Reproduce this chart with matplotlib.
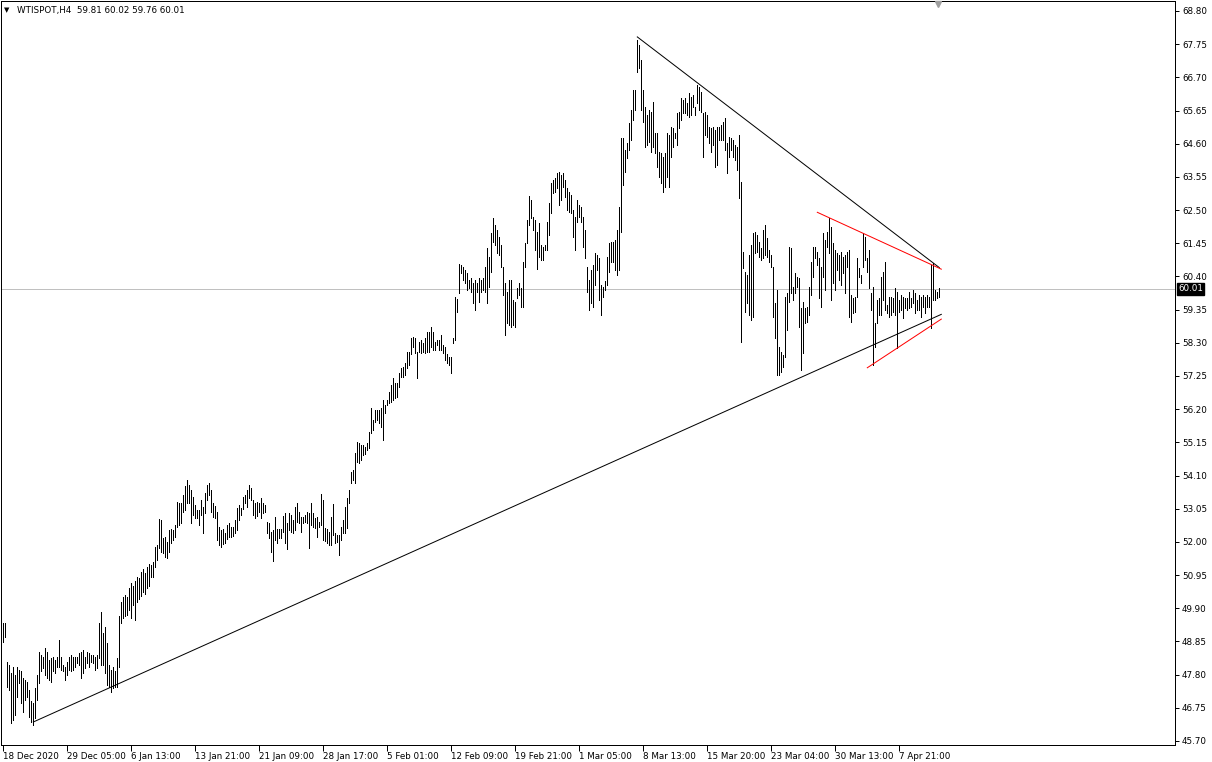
import matplotlib
matplotlib.use("Agg")
import matplotlib.pyplot as plt
import numpy as np

# ---------------- data (H4 bars, high / low) ----------------
highs = [
 49.43,49.43,48.21,48.11,47.84,48.05,47.79,48.05,47.95,47.90,
 47.68,47.63,47.58,47.32,46.95,46.89,47.37,47.79,48.53,48.42,
 48.37,48.63,48.53,48.26,48.32,48.37,48.26,48.37,48.90,48.37,
 48.11,48.05,48.21,48.37,48.42,48.37,48.37,48.37,48.48,48.53,
 48.58,48.37,48.53,48.48,48.42,48.42,48.37,48.42,49.43,49.79,
 49.11,49.32,48.79,48.11,47.95,48.05,47.90,48.32,49.64,50.11,
 50.27,50.32,50.27,50.55,50.70,50.60,50.75,50.90,50.85,51.05,
 51.15,51.00,51.20,51.30,51.27,51.37,51.85,51.90,52.71,52.69,
 52.11,52.17,52.01,52.38,52.40,52.38,52.53,53.27,53.24,53.22,
 53.48,53.77,53.96,53.80,53.64,53.43,53.17,53.01,53.01,53.33,
 53.11,53.54,53.80,53.85,53.64,53.22,53.14,52.96,52.48,52.38,
 52.40,52.27,52.53,52.59,52.48,52.48,52.69,53.06,53.17,53.06,
 53.43,53.48,53.64,53.80,53.70,53.33,53.22,53.27,53.22,53.38,
 53.22,53.17,52.64,52.59,52.32,52.38,52.80,52.40,52.40,52.40,
 52.82,52.90,52.59,52.90,52.85,52.69,53.11,53.22,52.96,52.80,
 52.80,52.85,52.96,52.90,53.24,52.90,52.74,52.80,52.64,53.52,
 53.33,52.43,52.40,52.32,52.80,53.20,52.27,52.22,52.22,52.48,
 52.69,53.11,53.38,53.64,54.22,54.27,54.80,55.17,55.12,55.07,
 55.07,55.01,55.12,55.49,56.23,55.86,56.17,56.17,56.17,56.23,
 56.49,56.33,56.49,56.75,56.97,57.18,57.02,57.02,57.33,57.49,
 57.55,57.65,58.02,58.02,58.44,58.49,58.44,58.02,58.34,58.39,
 58.28,58.44,58.65,58.65,58.81,58.65,58.34,58.39,58.39,58.55,
 58.23,58.18,57.93,57.86,57.86,58.44,59.76,59.68,60.79,60.76,
 60.71,60.60,60.50,60.29,60.34,60.18,60.29,60.18,60.34,60.29,
 60.34,60.69,61.29,61.03,61.76,62.24,62.03,61.87,61.66,61.40,
 60.71,60.18,59.92,60.29,60.29,59.65,59.60,60.03,60.18,60.03,
 60.87,61.45,62.19,62.95,62.82,62.29,62.19,61.82,62.08,61.40,
 61.34,61.40,62.13,62.71,63.35,63.45,63.50,63.66,63.72,63.61,
 63.66,63.45,63.19,63.08,62.98,62.50,62.29,62.82,62.66,62.61,
 62.29,61.87,60.71,60.29,60.60,60.76,61.13,61.08,60.97,60.13,
 60.08,60.24,61.03,61.45,61.50,61.50,61.55,61.87,62.61,64.77,
 64.77,64.40,64.61,65.25,65.67,66.30,66.30,67.88,67.72,67.25,
 66.30,65.77,65.51,65.67,65.61,65.93,64.93,64.93,64.35,64.30,
 64.19,64.30,64.93,64.88,65.14,65.09,64.93,65.56,65.61,66.04,
 65.98,66.04,65.88,66.20,66.09,66.14,65.77,66.46,66.40,66.25,
 65.56,65.61,65.51,65.14,65.09,65.14,65.04,65.14,65.14,65.19,
 65.30,65.40,64.61,64.82,64.77,64.72,64.56,64.51,64.88,63.40,
 61.18,60.55,60.44,61.08,61.40,61.76,61.82,61.71,61.50,61.29,
 61.87,62.03,61.61,61.24,61.08,60.71,59.55,59.97,58.18,58.02,
 57.91,59.76,59.87,61.34,61.29,60.08,60.50,60.39,60.34,59.39,
 59.60,59.39,59.44,60.08,60.87,61.34,61.34,61.18,60.97,60.71,
 61.76,61.55,61.82,62.24,61.98,61.45,61.24,61.13,61.08,61.18,
 61.03,61.08,61.18,61.24,59.81,59.71,59.76,60.97,60.66,60.45,
 61.76,61.66,60.97,61.24,59.87,60.08,58.92,59.66,59.71,60.39,
 60.55,60.87,59.50,59.76,59.76,59.71,60.02,59.92,59.66,59.81,
 59.76,59.71,59.71,59.92,59.71,59.97,59.87,59.66,59.81,59.76,
 59.81,59.76,59.81,59.76,60.76,60.82,59.97,59.92,60.02,
]
lows = [
 48.82,49.00,47.42,47.32,46.26,46.37,46.52,47.10,47.53,46.89,
 46.63,47.00,47.10,46.47,46.31,46.21,46.42,47.00,47.53,47.90,
 48.00,47.79,47.68,47.63,47.58,47.90,47.84,48.05,48.05,47.95,
 47.90,47.63,47.79,47.95,47.90,47.95,48.05,48.16,48.11,47.68,
 47.84,48.00,48.16,48.05,48.21,48.16,47.95,48.00,48.32,48.11,
 48.11,47.84,47.47,47.42,47.26,47.37,47.42,47.42,48.05,49.43,
 49.58,49.64,49.69,49.85,49.58,50.01,49.53,50.10,50.20,50.30,
 50.40,50.35,50.55,50.60,50.90,50.90,51.22,51.43,51.80,51.69,
 51.64,51.53,51.48,51.69,51.98,52.06,52.17,52.48,52.53,52.59,
 52.96,53.01,53.22,53.22,52.61,52.85,52.74,52.74,52.53,52.85,
 52.29,52.90,53.33,53.48,52.96,52.80,52.74,52.06,51.90,51.83,
 51.93,51.95,52.08,52.17,52.14,52.19,52.27,52.38,52.69,52.85,
 53.03,53.22,53.11,53.38,53.33,52.85,52.74,52.82,52.96,52.74,
 52.90,52.96,52.27,52.11,51.69,51.41,52.06,51.98,52.11,52.11,
 52.32,51.95,51.76,52.38,52.32,52.27,52.38,52.64,52.59,52.32,
 52.59,52.64,52.59,51.80,52.53,52.48,52.43,52.17,52.48,52.53,
 52.06,52.04,51.95,51.90,51.90,52.22,51.95,52.01,51.59,52.06,
 52.27,52.27,52.43,53.22,53.85,53.96,53.85,54.54,54.51,54.59,
 54.75,54.78,54.91,54.96,55.44,55.54,55.80,55.86,55.75,55.65,
 55.22,56.07,56.33,56.39,56.44,56.49,56.54,56.60,56.91,57.23,
 57.23,57.28,57.49,57.60,57.93,58.18,57.97,57.18,58.02,57.99,
 58.02,57.97,58.02,58.02,58.18,58.07,58.07,58.23,58.07,58.07,
 57.97,57.76,57.65,57.60,57.33,58.28,58.39,59.29,59.87,60.50,
 60.29,60.18,59.97,60.03,59.92,59.55,59.34,59.92,59.60,59.92,
 59.97,59.92,59.55,60.08,60.55,61.50,61.40,61.13,61.08,60.71,
 59.81,58.55,58.92,58.86,58.81,58.86,58.81,59.71,59.81,59.44,
 59.44,60.71,61.45,62.03,62.24,61.87,61.24,60.63,61.03,60.92,
 60.92,61.24,61.24,61.71,62.40,63.03,63.08,63.19,62.66,62.82,
 63.24,62.92,62.50,62.45,62.40,61.66,61.24,62.13,62.29,62.13,
 61.34,60.97,59.92,59.34,59.55,59.44,60.13,60.60,59.65,59.18,
 59.76,59.97,60.13,60.55,60.87,60.87,60.60,60.45,60.60,61.82,
 63.29,63.72,64.14,64.40,64.72,65.35,65.67,66.88,66.99,65.67,
 65.30,64.51,64.56,64.67,64.35,64.51,64.30,63.87,63.56,63.35,
 63.08,63.24,63.56,63.24,64.19,64.51,64.77,64.56,65.09,65.35,
 65.56,65.56,65.51,65.46,65.51,65.77,65.51,65.88,65.67,65.61,
 64.19,64.88,64.82,64.61,64.35,64.56,63.87,63.93,64.72,64.72,
 64.72,64.40,63.66,64.19,64.40,64.19,64.09,63.77,62.87,58.34,
 60.66,59.29,59.55,59.18,59.02,59.13,61.13,61.18,61.03,60.92,
 60.97,61.08,61.03,60.87,60.71,59.13,58.44,57.28,57.28,57.39,
 57.55,57.86,58.70,59.60,59.87,59.65,59.87,60.08,58.81,57.44,
 57.97,58.92,58.97,59.18,59.81,60.39,60.97,60.76,59.71,59.44,
 60.39,59.97,61.34,61.13,59.66,60.18,59.97,60.60,60.29,60.13,
 60.50,59.87,60.71,59.13,58.97,59.23,59.29,59.76,60.39,60.18,
 60.71,60.92,60.55,60.02,59.34,57.60,58.18,58.92,59.18,59.18,
 59.66,59.34,59.23,59.13,59.18,59.29,59.18,58.13,59.29,59.34,
 59.07,59.39,59.34,59.39,59.44,59.55,59.23,59.34,59.34,59.13,
 59.44,59.23,59.44,59.44,58.76,59.66,59.66,59.71,59.76,
]

date_labels = ["18 Dec 2020", "29 Dec 05:00", "6 Jan 13:00", "13 Jan 21:00",
               "21 Jan 09:00", "28 Jan 17:00", "5 Feb 01:00", "12 Feb 09:00",
               "19 Feb 21:00", "1 Mar 05:00", "8 Mar 13:00", "15 Mar 20:00",
               "23 Mar 04:00", "30 Mar 13:00", "7 Apr 21:00"]
label_step = 32           # bars between date labels
price_ticks = [68.80, 67.75, 66.70, 65.65, 64.60, 63.55, 62.50, 61.45, 60.40,
               59.35, 58.30, 57.25, 56.20, 55.15, 54.10, 53.05, 52.00, 50.95,
               49.90, 48.85, 47.80, 46.75, 45.70]
last_ohlc = [59.81, 60.02, 59.76, 60.01]
symbol = "WTISPOT,H4"

# trend lines: (bar index, price) anchors
black_support = [(15, 46.30), (469, 59.20)]
black_resist = [(317, 67.98), (468, 60.68)]
red_resist = [(407, 62.43), (469, 60.63)]
red_support = [(432, 57.51), (469, 59.05)]

# ---------------- figure ----------------
W, H = 1212, 762
fig = plt.figure(figsize=(W / 100, H / 100), dpi=100)
ax_l, ax_r, ax_t, ax_b = 1, 1175, 1, 745
ax = fig.add_axes([ax_l / W, 1 - ax_b / H, (ax_r - ax_l) / W, (ax_b - ax_t) / H])

px_per_bar = 2.0
x0_px = 3.3
ax.set_xlim((ax_l - x0_px) / px_per_bar, (ax_r - x0_px) / px_per_bar)
ppd = 31.6
ax.set_ylim(68.80 - (ax_b - 11) / ppd, 68.80 - (ax_t - 11) / ppd)

lw1 = 0.72
idx = np.arange(len(highs))
ax.vlines(idx, lows, highs, colors="black", linewidth=lw1, antialiased=False, zorder=3)

# current price line
last = last_ohlc[3]
ax.axhline(last, color="#c0c0c0", linewidth=lw1, zorder=1, antialiased=False)

for line, col in [(black_support, "black"), (black_resist, "black"),
                  (red_resist, "red"), (red_support, "red")]:
    xs = [p[0] for p in line]
    ys = [p[1] for p in line]
    ax.plot(xs, ys, color=col, linewidth=lw1, zorder=4, antialiased=True)

for s in ax.spines.values():
    s.set_color("black")
    s.set_linewidth(lw1)

font = "DejaVu Sans"
fs = 6.3
ax.yaxis.tick_right()
ax.set_yticks(price_ticks)
ax.set_yticklabels([f"{v:.2f}" for v in price_ticks], fontsize=fs, family=font)
ax.tick_params(axis="y", direction="out", length=3, width=lw1, pad=2, colors="black")

xt = [i * label_step for i in range(len(date_labels))]
ax.set_xticks(xt)
ax.set_xticklabels(date_labels, fontsize=fs, family=font, ha="left")
ax.tick_params(axis="x", direction="out", length=4, width=lw1, pad=1, colors="black")

# current price box
ax.text(1.0 + 3 / (ax_r - ax_l), last, f"{last:.2f}", transform=ax.get_yaxis_transform(),
        fontsize=fs, family=font, color="white", va="center", ha="left",
        bbox=dict(boxstyle="square,pad=0.15", fc="black", ec="black"), zorder=10, clip_on=False)

# header
fig.text(4 / W, 1 - 10 / H, "\u25bc", fontsize=5, family=font, va="center", ha="left")
fig.text(17 / W, 1 - 10 / H, f"{symbol}  " + " ".join(f"{v:.2f}" for v in last_ohlc),
         fontsize=fs, family=font, va="center", ha="left")

# chart shift marker
ax.plot([(938 - ax_l) / (ax_r - ax_l)], [1 - 3 / (ax_b - ax_t)], marker="v", markersize=5,
        color="#a0a0a0", transform=ax.transAxes, clip_on=False, zorder=5)

fig.savefig("out.png", dpi=100, facecolor="white")
